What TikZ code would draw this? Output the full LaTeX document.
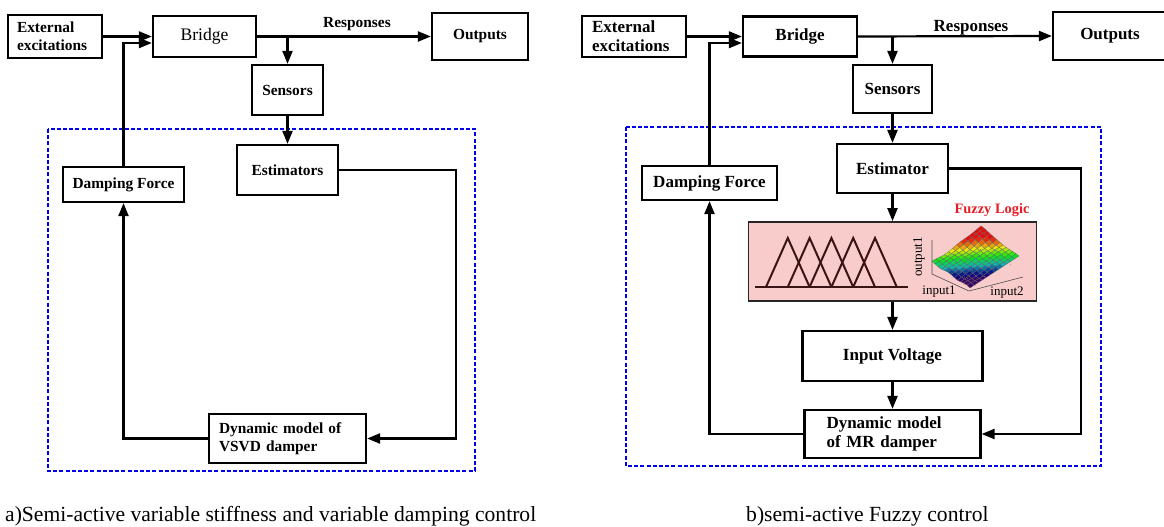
\PassOptionsToPackage{rgb}{xcolor}
\documentclass[tikz,border=0pt]{standalone}
\usepackage{fontspec}
\setmainfont{Liberation Serif}
\usetikzlibrary{arrows.meta,calc}

\definecolor{dashblue}{RGB}{0,0,238}
\definecolor{fuzzpink}{RGB}{249,204,204}
\definecolor{fuzzred}{RGB}{232,28,38}
\definecolor{mfline}{RGB}{58,20,20}

% fonts of the two panels
\newcommand\fsL{\fontsize{15.4}{18}\selectfont\bfseries}
\newcommand\fsR{\fontsize{17}{19}\selectfont\bfseries}
\newcommand\fsCap{\fontsize{21.6}{24}\selectfont}
\newcommand\fsAxis{\fontsize{13}{14}\selectfont}

% height of the fuzzy control surface
\pgfmathdeclarefunction{srfz}{2}{%
  \pgfmathparse{4*exp(-10*((#1-0.95)^2+(#2-0.95)^2))+0.8*sin(800*#1)*cos(650*#2)}%
}

\tikzset{
  blk/.style={draw=black, line width=2.2pt, inner sep=0pt, align=center},
  conn/.style={line width=2.2pt, line join=miter},
  arr/.style={conn, -{Triangle[length=13pt,width=10pt]}},
  bluebox/.style={draw=dashblue, line width=2.2pt, dash pattern=on 4pt off 2.2pt},
  mf/.style={draw=mfline, line width=2pt, line join=miter},
  surfmesh/.style={draw=black!60, line width=0.25pt},
  axisline/.style={draw=black!70, line width=0.6pt},
}

\begin{document}
\begin{tikzpicture}[x=1pt,y=-1pt]
\useasboundingbox (0,0) rectangle (1164,527);
\fill[white] (0,0) rectangle (1164,527);

%% ---------------- panel a ----------------
\draw[bluebox] (48,129) rectangle (475,471);

\node[blk, line width=2.8pt, minimum width=94pt, minimum height=43pt,
      text width=76pt, align=left, font=\fsL] (ext1) at (55,36.5) {External\\excitations};
\node[blk, minimum width=103pt, minimum height=41pt,
      font=\fontsize{17.6}{20}\selectfont] (bridge1) at (204.5,36.5) {Bridge};
\node[blk, minimum width=96pt, minimum height=47pt, font=\fsL] (out1) at (480,36.5) {Outputs};
\node[font=\fsL, inner sep=0pt] (resp1) at (357,24) {Responses};
\node[blk, minimum width=71pt, minimum height=50pt, font=\fsL] (sens1) at (287.5,90) {Sensors};
\node[blk, minimum width=101pt, minimum height=50pt, font=\fsL] (est1) at (287.5,170) {Estimators};
\node[blk, minimum width=121pt, minimum height=35pt, font=\fsL] (damp1) at (123.5,184.5) {Damping Force};
\node[blk, minimum width=157pt, minimum height=49pt, text width=137pt,
      align=left, font=\fsL] (dyn1) at (287.5,438.5) {Dynamic model of\\VSVD damper};
\coordinate (rt1) at (456,438.5);

\draw[arr] (ext1.east) -- (bridge1.west);
\draw[arr] (damp1.north) |- ([yshift=-6.5pt]bridge1.west);
\draw[arr] (bridge1.east) -- (out1.west);
\draw[arr] (bridge1.east -| sens1.north) -- (sens1.north);
\draw[arr] (sens1.south) -- (est1.north);
\draw[arr] (est1.east) -| (rt1) -- (dyn1.east);
\draw[arr] (dyn1.west) -| (damp1.south);

%% ---------------- panel b ----------------
\draw[bluebox] (626,127) rectangle (1101,466);

\node[blk, line width=2.8pt, minimum width=104pt, minimum height=41pt,
      text width=84pt, align=left, font=\fsR] (ext2) at (634,36.5) {External\\excitations};
\node[blk, minimum width=114pt, minimum height=40pt, font=\fsR] (bridge2) at (800,36.5) {Bridge};
\node[blk, minimum width=114pt, minimum height=48pt, font=\fsR] (out2) at (1110,36) {Outputs};
\node[font=\fsR, inner sep=0pt] (resp2) at (971,28) {Responses};
\node[blk, minimum width=79pt, minimum height=48pt, font=\fsR] (sens2) at (892.5,89) {Sensors};
\node[blk, minimum width=111pt, minimum height=49pt, font=\fsR] (est2) at (892.5,168.5) {Estimator};
\node[blk, minimum width=135pt, minimum height=34pt, font=\fsR] (damp2) at (709.5,183) {Damping Force};
\node[draw=black!85, line width=1.8pt, fill=fuzzpink, minimum width=288pt,
      minimum height=79pt, inner sep=0pt] (fuzzy) at (892.5,261.5) {};
\node[font=\fontsize{14.4}{16}\selectfont\bfseries, text=fuzzred, inner sep=0pt] (fzlabel) at (992,210) {Fuzzy Logic};
\node[blk, minimum width=180pt, minimum height=50pt, font=\fsR] (volt) at (892.5,356) {Input Voltage};
\node[blk, minimum width=176pt, minimum height=48pt, text width=132pt,
      align=left, font=\fsR] (dyn2) at (892.5,434) {Dynamic model\\of MR damper};
\coordinate (rt2) at (1081,434);

\draw[arr] (ext2.east) -- (bridge2.west);
\draw[arr] (damp2.north) |- ([yshift=-6.5pt]bridge2.west);
\draw[arr] (bridge2.east) -- (out2.west);
\draw[arr] (bridge2.east -| sens2.north) -- (sens2.north);
\draw[arr] (sens2.south) -- (est2.north);
\draw[arr] (est2.south) -- (fuzzy.north);
\draw[arr] (fuzzy.south) -- (volt.north);
\draw[arr] (volt.south) -- (dyn2.north);
\draw[arr] (est2.east) -| (rt2) -- (dyn2.east);
\draw[arr] (dyn2.west) -| (damp2.south);

% triangular membership functions
\draw[mf] (755,287) -- (908,287);
\foreach \k in {0,...,4}
  \draw[mf] ({766+21.8*\k},287) -- ({766+21.8*(\k+1)},238) -- ({766+21.8*(\k+2)},287);

% control surface with its axes
\draw[axisline] (932,240) -- (932,274) -- (969,291) -- (1023,277);
\begin{scope}[shift={(970,288)}]
  \foreach \i in {11,10,...,0}{
    \foreach \j in {11,10,...,0}{
      \pgfmathsetmacro\hc{max(0,min(1,0.5+((\i+\j+1)/23-0.5)*1.45))}
      \pgfmathsetmacro\hu{0.76*(1-\hc)}
      \pgfmathsetmacro\br{min(0.92,0.40+0.9*\hc)}
      \definecolor{surf}{hsb}{\hu,0.95,\br}
      \pgfmathsetmacro\ua{\i/12}
      \pgfmathsetmacro\ub{(\i+1)/12}
      \pgfmathsetmacro\va{\j/12}
      \pgfmathsetmacro\vb{(\j+1)/12}
      \filldraw[surfmesh, fill=surf]
        ({-38*\ua+49*\va},{-26*\ua-32*\va-srfz(\ua,\va)}) --
        ({-38*\ub+49*\va},{-26*\ub-32*\va-srfz(\ub,\va)}) --
        ({-38*\ub+49*\vb},{-26*\ub-32*\vb-srfz(\ub,\vb)}) --
        ({-38*\ua+49*\vb},{-26*\ua-32*\vb-srfz(\ua,\vb)}) -- cycle;
    }
  }
  \pgfmathsetseed{11}
  \foreach \n in {1,...,30}{
    \pgfmathsetmacro\du{rnd}
    \pgfmathsetmacro\dv{rnd}
    \pgfmathsetmacro\dz{(rnd-0.5)*14}
    \fill[black!50] ({-38*\du+49*\dv},{-26*\du-32*\dv-\dz}) circle (0.5pt);
  }
\end{scope}
\node[font=\fsAxis, rotate=90, inner sep=0pt] (zlab) at (919,257) {output1};
\node[font=\fsAxis, inner sep=0pt] (xlab) at (939,292) {input1};
\node[font=\fsAxis, inner sep=0pt] (ylab) at (1007,293) {input2};

%% ---------------- captions ----------------
\node[anchor=base west, font=\fsCap, inner sep=0pt] (capa) at (5,521)
  {a)Semi-active variable stiffness and variable damping control};
\node[anchor=base west, font=\fsCap, inner sep=0pt] (capb) at (746,521)
  {b)semi-active Fuzzy control};
\end{tikzpicture}
\end{document}
